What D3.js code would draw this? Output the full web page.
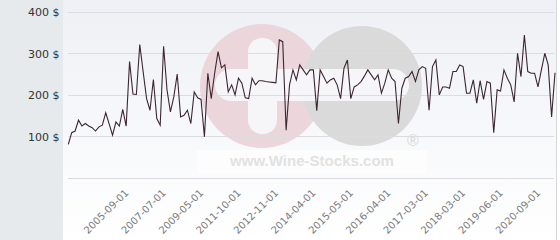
<!DOCTYPE html>
<html>
<head>
<meta charset="utf-8">
<script src="https://cdn.jsdelivr.net/npm/d3@7"></script>
<style>
  html, body { margin: 0; padding: 0; background: #fff; }
  svg { display: block; font-family: "DejaVu Sans", Verdana, sans-serif; }
</style>
</head>
<body>
<div id="chart"></div>
<script>
// price per bottle, one value per listing (categorical x)
const prices = [
  81, 109, 113, 139, 125, 131, 125, 121, 113, 123, 127, 157, 130, 103, 135, 125,
  165, 125, 280, 202, 201, 321, 255, 191, 163, 237, 143, 127, 317, 212, 159, 195,
  250, 147, 151, 163, 131, 207, 193, 189, 99, 252, 191, 252, 304, 265, 272, 207,
  224, 200, 240, 228, 193, 191, 240, 224, 234, 234, 232, 231, 230, 229, 332, 328,
  115, 224, 260, 236, 272, 260, 248, 260, 260, 162, 260, 244, 228, 236, 240, 224,
  191, 264, 284, 191, 219, 224, 232, 245, 260, 248, 236, 248, 204, 228, 260, 240,
  232, 131, 216, 240, 244, 256, 232, 260, 268, 264, 163, 268, 284, 200, 219, 219,
  216, 256, 256, 272, 268, 204, 204, 236, 180, 234, 189, 232, 228, 109, 212, 209,
  260, 240, 224, 183, 300, 244, 344, 256, 252, 252, 219, 260, 300, 272, 147, 253
];

// labelled categories (index into prices) and their dates
const tickIndex = [17, 28, 39, 50, 61, 72, 83, 94, 105, 116, 127, 138];
const tickDates = [
  "2005-09-01", "2007-07-01", "2009-05-01", "2011-10-01", "2012-11-01", "2014-04-01",
  "2015-05-01", "2016-04-01", "2017-03-01", "2018-03-01", "2019-06-01", "2020-09-01"
];
const yTicks = [0, 100, 200, 300, 400];

const width = 560, height = 240;

const svg = d3.select("#chart").append("svg")
  .attr("width", width)
  .attr("height", height);

const defs = svg.append("defs");
const grad = defs.append("linearGradient")
  .attr("id", "plotbg").attr("x1", 0).attr("y1", 0).attr("x2", 0).attr("y2", 1);
grad.append("stop").attr("offset", "0%").attr("stop-color", "#eef0f5");
grad.append("stop").attr("offset", "100%").attr("stop-color", "#ffffff");

// backgrounds
svg.append("rect").attr("x", 0).attr("y", 0).attr("width", 63).attr("height", height)
  .attr("fill", "#e6eaed");
svg.append("rect").attr("x", 63).attr("y", 0).attr("width", 493).attr("height", height)
  .attr("fill", "url(#plotbg)");
svg.append("line").attr("x1", 556.5).attr("x2", 556.5).attr("y1", 0).attr("y2", height)
  .attr("stroke", "#d6d6d6");

const x = d3.scaleLinear()
  .domain([0, prices.length - 1])
  .range([68.3, 555]);

const y = d3.scaleLinear()
  .domain([0, 400])
  .range([178, 11.7]);

// watermark
const wm = svg.append("g");
wm.append("circle").attr("cx", 262).attr("cy", 86).attr("r", 62).attr("fill", "#ebd6dc");
wm.append("circle").attr("cx", 362).attr("cy", 86).attr("r", 60).attr("fill", "#dadada");
wm.append("rect").attr("x", 248).attr("y", 38).attr("width", 29).attr("height", 96)
  .attr("rx", 14).attr("fill", "#f6f6f9");
wm.append("rect").attr("x", 215).attr("y", 69).attr("width", 194).attr("height", 32)
  .attr("rx", 16).attr("fill", "#f6f6f9");
wm.append("rect").attr("x", 197).attr("y", 150).attr("width", 230).attr("height", 24)
  .attr("fill", "#ffffff").attr("opacity", 0.6);
wm.append("text").attr("x", 312).attr("y", 166)
  .attr("text-anchor", "middle")
  .attr("font-family", "Liberation Sans, Arial, sans-serif")
  .attr("font-weight", "bold").attr("font-size", 15)
  .attr("textLength", 164).attr("lengthAdjust", "spacingAndGlyphs")
  .attr("fill", "#e2e2e2")
  .text("www.Wine-Stocks.com");
wm.append("text").attr("x", 413).attr("y", 146)
  .attr("text-anchor", "middle")
  .attr("font-family", "Liberation Sans, Arial, sans-serif")
  .attr("font-size", 16)
  .attr("fill", "#dadada")
  .text("®");

// y axis + grid
const yAxis = svg.append("g")
  .call(d3.axisLeft(y).tickValues(yTicks).tickSize(0).tickPadding(0)
    .tickFormat(d => d === 0 ? "" : d + " $"));
yAxis.select(".domain").remove();
yAxis.selectAll("text")
  .attr("x", 59.5)
  .attr("dy", "0.36em")
  .attr("fill", "#333")
  .style("font-size", "11px")
  .style("font-family", "DejaVu Sans, sans-serif");

svg.append("g").selectAll("line")
  .data(yTicks)
  .enter()
  .append("line")
  .attr("x1", 68).attr("x2", 554)
  .attr("y1", d => Math.round(y(d)) + 0.5)
  .attr("y2", d => Math.round(y(d)) + 0.5)
  .attr("stroke", "#dcdce0");

// x axis labels
const xAxis = svg.append("g")
  .attr("transform", "translate(0,191)")
  .call(d3.axisBottom(x).tickValues(tickIndex).tickSize(0).tickPadding(0)
    .tickFormat((d, i) => tickDates[i]));
xAxis.select(".domain").remove();
xAxis.selectAll("text")
  .attr("y", 0)
  .attr("dy", "0.35em")
  .attr("transform", "rotate(-45)")
  .style("text-anchor", "end")
  .attr("fill", "#7a7a7a")
  .style("font-size", "10px")
  .style("font-family", "DejaVu Sans, sans-serif");

// price line
const line = d3.line()
  .x((d, i) => x(i))
  .y(d => y(d));

svg.append("path")
  .datum(prices)
  .attr("fill", "none")
  .attr("stroke", "#3b2631")
  .attr("stroke-width", 1.1)
  .attr("d", line);
</script>
</body>
</html>
